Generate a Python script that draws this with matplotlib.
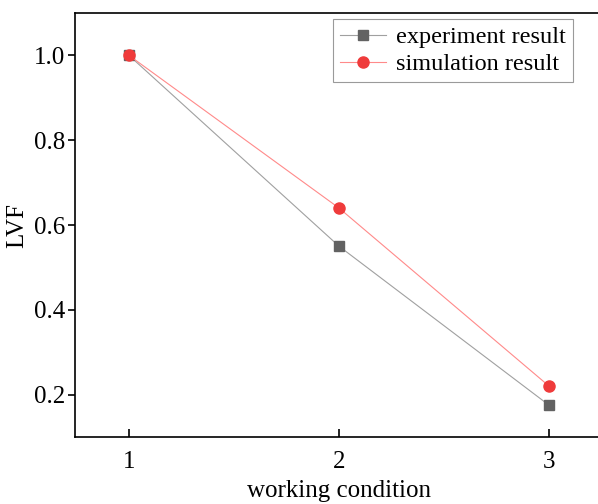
import matplotlib
matplotlib.use("Agg")
import matplotlib.pyplot as plt

conditions = [1, 2, 3]
experiment = [1.0, 0.55, 0.175]
simulation = [1.0, 0.64, 0.22]
x_ticks = [1, 2, 3]
y_ticks = [0.2, 0.4, 0.6, 0.8, 1.0]

plt.rcParams['font.family'] = ['Liberation Serif', 'DejaVu Serif']
plt.rcParams['font.size'] = 18

fig = plt.figure(figsize=(5.98, 5.04), dpi=100)
ax = fig.add_axes([75 / 598, 1 - 437 / 504, 528 / 598, 424 / 504])

ax.plot(conditions, experiment, color='#a0a0a0', lw=0.8, marker='s', ms=7,
        mfc='#626262', mec='#626262', label='experiment result', zorder=3)
ax.plot(conditions, simulation, color='#ff8a8a', lw=0.8, marker='o', ms=8,
        mfc='#ef3b3b', mec='#ef3b3b', label='simulation result', zorder=4)

ax.set_xlim(0.743, 3.257)
ax.set_ylim(0.1, 1.1)
ax.set_xticks(x_ticks)
ax.set_xticklabels([str(v) for v in x_ticks])
ax.set_yticks(y_ticks)
ax.set_yticklabels([f"{v:.1f}" for v in y_ticks])

for s in ax.spines.values():
    s.set_linewidth(1.2)
ax.tick_params(axis='y', direction='out', length=5, width=1.2, labelsize=18, pad=2)
ax.tick_params(axis='x', direction='in', length=6, width=1.2, labelsize=18, pad=10)

ax.set_xlabel('working condition', fontsize=18, labelpad=5)
ax.set_ylabel('LVF', fontsize=18, labelpad=4)

leg = ax.legend(loc='upper right', bbox_to_anchor=(573 / 598, 1 - 19 / 504),
                bbox_transform=fig.transFigure, fancybox=False, framealpha=1,
                edgecolor='#9a9a9a', borderpad=0.3, handlelength=1.9,
                handletextpad=0.4, labelspacing=0.2, fontsize=17.5,
                borderaxespad=0)
leg.get_frame().set_linewidth(0.8)

fig.savefig('out.png', dpi=100)
